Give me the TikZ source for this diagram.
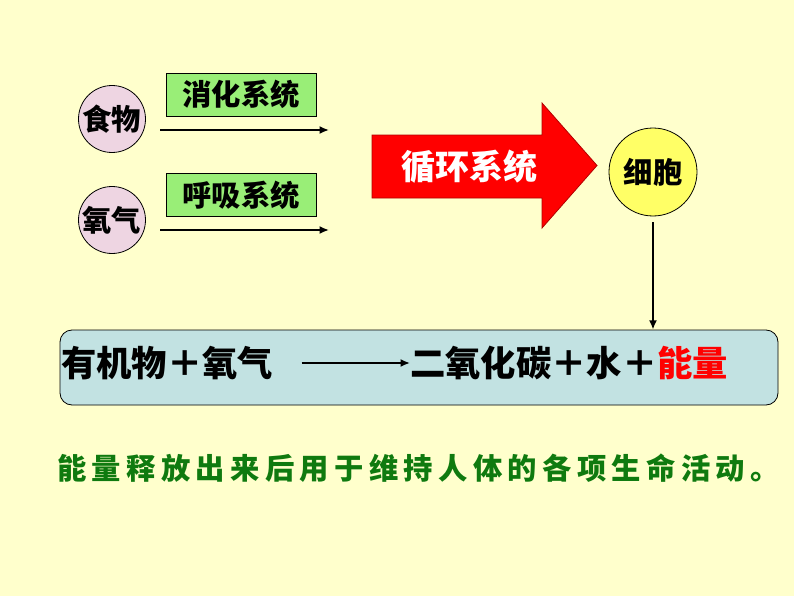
\documentclass[tikz,border=0pt]{standalone}
\usepackage{fontspec}
\newfontfamily\cjk{Noto Sans CJK SC}
\usetikzlibrary{arrows.meta}
\definecolor{bg}{HTML}{FFFFCC}
\definecolor{pinkc}{HTML}{EED5E2}
\definecolor{greenc}{HTML}{99EE77}
\definecolor{yelc}{HTML}{FFFF66}
\definecolor{bluec}{HTML}{C2E2E2}
\definecolor{redc}{HTML}{FF0000}
\definecolor{darkgreen}{HTML}{0F7A0F}
\def\spc#1{\ifx#1\relax\else#1\kern4pt\expandafter\spc\fi}
\tikzset{
  ball/.style={circle,draw=black,line width=0.6pt,inner sep=0pt,font=\cjk\bfseries\fontsize{22pt}{24pt}\selectfont},
  sysbox/.style={draw=black,line width=0.5pt,fill=greenc,minimum width=112.5pt,minimum height=32.25pt,inner sep=0pt,font=\cjk\bfseries\fontsize{22pt}{24pt}\selectfont},
  arr/.style={line width=1.6pt,-{Latex[length=7pt,width=6pt]}},
  eq/.style={inner sep=0pt,font=\cjk\bfseries\fontsize{26.5pt}{28pt}\selectfont}
}
\begin{document}
\begin{tikzpicture}[x=0.75pt,y=-0.75pt]
\fill[bg] (0,0) rectangle (794,596);
\useasboundingbox (0,0) rectangle (794,596);
% left circles
\node[ball,fill=pinkc,minimum size=50.25pt] (food) at (112,119) {食物};
\node[ball,fill=pinkc,minimum size=50.25pt] (oxy) at (112,220) {氧气};
% system boxes
\node[sysbox] (dig) at (241,94.5) {消化系统};
\node[sysbox] (resp) at (241,195) {呼吸系统};
% arrows
\coordinate (a1s) at (160,130); \coordinate (a1e) at (329,130);
\coordinate (a2s) at (160,230); \coordinate (a2e) at (329,230);
\draw[arr] (a1s) -- (a1e);
\draw[arr] (a2s) -- (a2e);
% red block arrow
\draw[draw=red!70!black,line width=0.6pt,fill=redc] (372,135) -- (542,135) -- (542,103) -- (597,165.5) -- (542,228) -- (542,198) -- (372,198) -- cycle;
\node[inner sep=0pt,text=white,font=\cjk\bfseries\fontsize{25.5pt}{27pt}\selectfont] (circ) at (469,167) {循环系统};
% cell
\node[ball,fill=yelc,minimum size=66pt] (cell) at (653,172) {细胞};
% equation box
\node[draw=black,line width=0.6pt,fill=bluec,rounded corners=9pt,minimum width=538.5pt,minimum height=56.25pt] (eqbox) at (419,367.5) {};
\draw[arr,shorten <=4.5pt] (cell.south) -- (cell.south |- eqbox.north);
\node[eq,anchor=west] (lhs) at (61,363) {有机物＋氧气};
\node[eq,anchor=west] (rhs) at (410,363) {二氧化碳＋水＋\textcolor{redc}{能量}};
\draw[arr] (lhs.east) ++(28,0) coordinate (eqs) (eqs) -- (rhs.west);
% bottom text
\node[inner sep=0pt,anchor=west,text=darkgreen,font=\cjk\bfseries\fontsize{22pt}{24pt}\selectfont] (note) at (57,468) {\spc 能量释放出来后用于维持人体的各项生命活动。\relax};
\end{tikzpicture}
\end{document}
